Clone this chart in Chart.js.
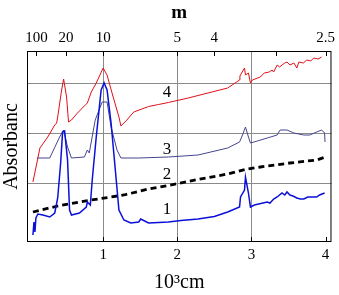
<!DOCTYPE html>
<html>
<head>
<meta charset="utf-8">
<script src="https://cdn.jsdelivr.net/npm/chart.js@4"></script>
<style>
  html, body { margin: 0; padding: 0; background: #fff; }
  #wrap { width: 339px; height: 295px; }
</style>
</head>
<body>
<div id="wrap"><canvas id="chart"></canvas></div>
<script>
// wavenumber (10^3 cm-1) and absorbance (offset) for each spectrum
const curve1X = [0.053, 0.067, 0.08, 0.093, 0.12, 0.187, 0.28, 0.347, 0.387, 0.427, 0.453, 0.48, 0.52, 0.547, 0.573, 0.68, 0.773, 0.787, 0.827, 0.853, 0.907, 0.973, 1.013, 1.053, 1.107, 1.173, 1.213, 1.28, 1.373, 1.48, 1.507, 1.613, 1.75, 1.88, 2.05, 2.28, 2.5, 2.68, 2.84, 2.853, 2.907, 2.92, 2.96, 2.987, 3.04, 3.213, 3.25, 3.3, 3.347, 3.413, 3.45, 3.48, 3.52, 3.56, 3.613, 3.66, 3.707, 3.76, 3.84, 3.88, 3.92, 3.987];
const curve1Y = [-0.04, 0.22, 0.02, 0.3, 0.38, 0.36, 0.32, 0.4, 0.7, 1.4, 2.02, 2.04, 1.46, 0.46, 0.36, 0.4, 0.52, 0.62, 0.56, 1.06, 1.92, 2.86, 3.0, 2.86, 2.2, 1.12, 0.46, 0.26, 0.2, 0.22, 0.28, 0.2, 0.21, 0.22, 0.25, 0.28, 0.33, 0.42, 0.52, 0.72, 0.86, 1.12, 0.8, 0.52, 0.56, 0.62, 0.6, 0.68, 0.72, 0.8, 0.76, 0.82, 0.76, 0.74, 0.7, 0.68, 0.68, 0.72, 0.72, 0.72, 0.76, 0.8];

const curve2X = [0.053, 0.387, 0.84, 1.28, 1.613, 1.88, 2.28, 2.68, 2.947, 3.12, 3.52, 3.88, 4.0];
const curve2Y = [0.42, 0.54, 0.66, 0.76, 0.88, 0.95, 1.07, 1.18, 1.28, 1.32, 1.4, 1.46, 1.52];

const curve3X = [0.107, 0.28, 0.413, 0.467, 0.52, 0.573, 0.747, 0.787, 0.813, 0.893, 0.987, 1.053, 1.107, 1.187, 1.24, 1.48, 1.88, 2.28, 2.68, 2.84, 2.88, 2.92, 2.96, 2.987, 3.08, 3.213, 3.347, 3.387, 3.48, 3.573, 3.707, 3.787, 3.88, 3.947, 3.987, 3.993];
const curve3Y = [1.5, 1.5, 1.92, 2.06, 1.72, 1.5, 1.52, 1.66, 1.6, 2.26, 2.62, 2.62, 2.12, 1.66, 1.5, 1.5, 1.52, 1.56, 1.7, 1.82, 1.96, 2.12, 1.92, 1.8, 1.84, 1.9, 1.96, 2.06, 2.06, 2.0, 1.96, 1.96, 2.02, 2.06, 2.0, 1.82];

const curve4X = [0.053, 0.12, 0.147, 0.253, 0.347, 0.373, 0.387, 0.44, 0.467, 0.507, 0.533, 0.573, 0.653, 0.787, 0.84, 0.907, 1.0, 1.053, 1.12, 1.213, 1.24, 1.32, 1.413, 1.613, 1.747, 1.88, 2.147, 2.413, 2.68, 2.84, 2.845, 2.907, 2.92, 2.96, 2.987, 3.013, 3.12, 3.173, 3.24, 3.28, 3.3, 3.347, 3.38, 3.413, 3.45, 3.48, 3.52, 3.573, 3.613, 3.64, 3.7, 3.747, 3.8, 3.84, 3.9, 3.947];
const curve4Y = [1.02, 1.5, 1.7, 1.92, 2.16, 2.2, 2.32, 2.86, 3.08, 2.72, 2.22, 2.26, 2.4, 2.6, 2.82, 3.0, 3.3, 3.16, 2.8, 2.32, 2.14, 2.26, 2.42, 2.53, 2.57, 2.61, 2.7, 2.8, 2.9, 3.06, 3.14, 3.3, 3.16, 3.2, 3.0, 3.06, 3.12, 3.2, 3.22, 3.26, 3.22, 3.36, 3.32, 3.36, 3.4, 3.42, 3.36, 3.4, 3.3, 3.42, 3.4, 3.46, 3.44, 3.5, 3.48, 3.52];

const curveColors = ['#0a10d8', '#000000', '#45458f', '#e01018'];

// curve number labels, placed in data units
const labelText = ['1', '2', '3', '4'];
const labelX = [1.86, 1.86, 1.86, 1.86];
const labelY = [0.46, 1.16, 1.66, 2.8];

// axis ticks
const bottomTicks = [1, 2, 3, 4];
const topWavelengths = [100, 20, 10, 5, 4, 3, 2.5];
const topLabels = ['100', '20', '10', '5', '4', '', '2.5'];
const yGrid = [1, 2, 3];

const toPoints = (xs, ys) => xs.map((x, i) => ({ x: x, y: ys[i] }));

const serif = '"Liberation Serif", "DejaVu Serif", serif';
Chart.defaults.font.family = serif;
Chart.defaults.color = '#000';

const framePlugin = {
  id: 'frame',
  afterDraw(chart) {
    const { ctx, chartArea: a, scales } = chart;
    ctx.save();
    ctx.strokeStyle = '#000';
    ctx.lineWidth = 1;
    ctx.strokeRect(a.left + 0.5, a.top + 0.5, a.right - a.left - 1, a.bottom - a.top - 1);
    ctx.beginPath();
    bottomTicks.forEach(v => {
      const px = Math.round(scales.x.getPixelForValue(v)) + 0.5;
      ctx.moveTo(px, a.bottom);
      ctx.lineTo(px, a.bottom - 5);
    });
    topWavelengths.forEach(w => {
      const px = Math.round(scales.x.getPixelForValue(10 / w)) + 0.5;
      ctx.moveTo(px, a.top);
      ctx.lineTo(px, a.top + 5);
    });
    ctx.stroke();
    ctx.fillStyle = '#000';
    ctx.font = '17px ' + serif;
    ctx.textAlign = 'center';
    ctx.textBaseline = 'middle';
    labelText.forEach((t, i) => {
      ctx.fillText(t, scales.x.getPixelForValue(labelX[i]), scales.y.getPixelForValue(labelY[i]));
    });
    ctx.restore();
  }
};

new Chart(document.getElementById('chart'), {
  type: 'line',
  data: {
    datasets: [
      { data: toPoints(curve1X, curve1Y), borderColor: curveColors[0], borderWidth: 1.5 },
      { data: toPoints(curve2X, curve2Y), borderColor: curveColors[1], borderWidth: 2.8, borderDash: [6, 4] },
      { data: toPoints(curve3X, curve3Y), borderColor: curveColors[2], borderWidth: 1 },
      { data: toPoints(curve4X, curve4Y), borderColor: curveColors[3], borderWidth: 1 }
    ]
  },
  options: {
    responsive: true,
    maintainAspectRatio: false,
    animation: false,
    devicePixelRatio: 1,
    layout: { padding: { right: 4 } },
    elements: { point: { radius: 0 }, line: { tension: 0 } },
    plugins: { legend: { display: false }, tooltip: { enabled: false } },
    scales: {
      x: {
        type: 'linear',
        position: 'bottom',
        min: -0.027,
        max: 4.08,
        afterBuildTicks: s => { s.ticks = bottomTicks.map(v => ({ value: v })); },
        afterFit: s => { s.height = 53; },
        ticks: { color: '#000', font: { family: serif, size: 15 }, padding: 4, maxRotation: 0, autoSkip: false },
        grid: { drawTicks: false, color: c => (c.tick && c.tick.value < 4 ? '#8a8a8a' : 'rgba(0,0,0,0)') },
        border: { display: false },
        title: { display: true, text: '10³cm', color: '#000', font: { family: serif, size: 20 }, padding: { top: 0, bottom: 0 } }
      },
      x2: {
        type: 'linear',
        position: 'top',
        min: -0.027,
        max: 4.08,
        afterBuildTicks: s => { s.ticks = topWavelengths.map(w => ({ value: 10 / w })); },
        afterFit: s => { s.height = 51; },
        ticks: {
          color: '#000', font: { family: serif, size: 15 }, padding: 4, maxRotation: 0, autoSkip: false,
          callback: (v, i) => topLabels[i]
        },
        grid: { drawOnChartArea: false, drawTicks: false },
        border: { display: false },
        title: { display: true, text: 'm', color: '#000', font: { family: serif, size: 19, weight: 'bold' }, padding: { top: 2, bottom: 0 } }
      },
      y: {
        min: -0.18,
        max: 3.64,
        afterBuildTicks: s => { s.ticks = yGrid.map(v => ({ value: v })); },
        afterFit: s => { s.width = 27; },
        ticks: { display: false },
        grid: { drawTicks: false, color: '#8a8a8a' },
        border: { display: false },
        title: { display: true, text: 'Absorbanc', color: '#000', font: { family: serif, size: 20 }, padding: 0 }
      }
    }
  },
  plugins: [framePlugin]
});
</script>
</body>
</html>
